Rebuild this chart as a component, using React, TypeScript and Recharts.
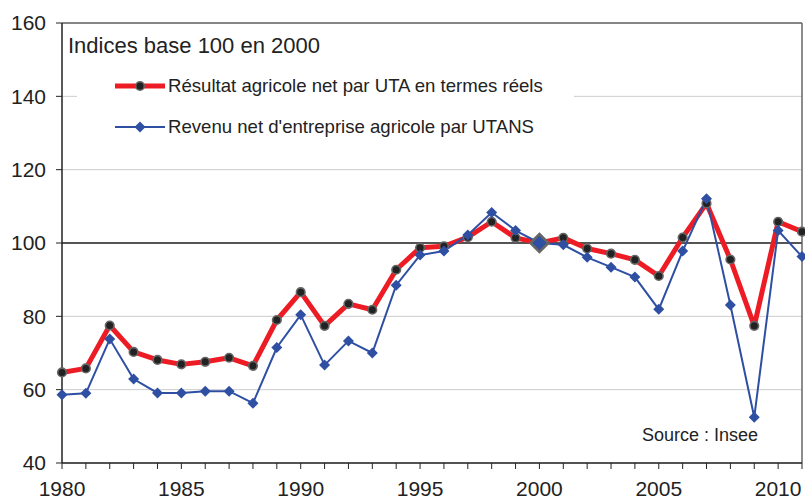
import React from 'react';
import {
  LineChart, Line, XAxis, YAxis, CartesianGrid, ReferenceLine
} from 'recharts';

const YEARS = [
  1980, 1981, 1982, 1983, 1984, 1985, 1986, 1987, 1988, 1989, 1990,
  1991, 1992, 1993, 1994, 1995, 1996, 1997, 1998, 1999, 2000,
  2001, 2002, 2003, 2004, 2005, 2006, 2007, 2008, 2009, 2010, 2011,
];

// Résultat agricole net par UTA en termes réels
const RESULTAT = [
  64.7, 65.8, 77.5, 70.3, 68.1, 66.9, 67.6, 68.7, 66.5, 79.0, 86.6,
  77.4, 83.4, 81.8, 92.7, 98.7, 99.1, 101.6, 105.8, 101.4, 100,
  101.4, 98.5, 97.1, 95.4, 91.0, 101.5, 110.8, 95.5, 77.4, 105.8, 103.1,
];

// Revenu net d'entreprise agricole par UTANS
const REVENU = [
  58.6, 59.0, 73.8, 62.9, 59.1, 59.1, 59.6, 59.6, 56.3, 71.5, 80.4,
  66.7, 73.3, 70.0, 88.5, 96.7, 97.8, 102.2, 108.3, 103.4, 100,
  99.5, 96.1, 93.4, 90.7, 81.9, 97.8, 112.1, 83.1, 52.5, 103.4, 96.3,
];

const Y_TICKS = [40, 60, 80, 100, 120, 140, 160];

const RED = '#ed1c24';
const BLUE = '#2f4fa3';
const FONT = '"Liberation Sans", Arial, sans-serif';

const data = YEARS.map((year, i) => ({ year, resultat: RESULTAT[i], revenu: REVENU[i] }));

const RedDot = (props: any) => {
  const { cx, cy, index } = props;
  return <circle key={`r-${index}`} cx={cx} cy={cy} r={4.3} fill="#222" stroke="#666" strokeWidth={1.6} />;
};

const Diamond = (props: any) => {
  const { cx, cy, index, payload } = props;
  const big = payload && payload.year === 2000;
  const s = big ? 9 : 5.5;
  return (
    <path
      key={`b-${index}`}
      d={`M${cx},${cy - s}L${cx + s},${cy}L${cx},${cy + s}L${cx - s},${cy}Z`}
      fill={BLUE}
      stroke={big ? '#666' : 'none'}
      strokeWidth={big ? 2.5 : 0}
    />
  );
};

const tickStyle = { fontFamily: FONT, fontSize: 21, fill: '#222' };

export default function App() {
  return (
    <div style={{ position: 'absolute', left: 0, top: 0, width: 805, height: 500, background: '#fff' }}>
      <LineChart width={805} height={500} data={data} margin={{ top: 23, right: 3, bottom: 0, left: 0 }}>
        <CartesianGrid horizontal vertical={false} stroke="#cccccc" />
        <XAxis
          type="number"
          dataKey="year"
          domain={[1980, 2011]}
          ticks={YEARS}
          interval={0}
          height={37}
          tickFormatter={(v: number) => (v % 5 === 0 ? String(v) : '')}
          tickSize={6}
          tickMargin={12}
          tick={tickStyle}
          axisLine={{ stroke: '#222', strokeWidth: 1.5 }}
          tickLine={{ stroke: '#222' }}
        />
        <YAxis
          type="number"
          domain={[40, 160]}
          ticks={Y_TICKS}
          interval={0}
          width={62}
          tickSize={6}
          tickMargin={10}
          tick={tickStyle}
          axisLine={{ stroke: '#222', strokeWidth: 1.5 }}
          tickLine={{ stroke: '#222' }}
        />
        <ReferenceLine y={160} stroke="#666" strokeWidth={1.5} />
        <ReferenceLine x={2011} stroke="#666" strokeWidth={1.5} />
        <ReferenceLine y={100} stroke="#555" strokeWidth={2} />
        <Line
          type="linear"
          dataKey="resultat"
          stroke={RED}
          strokeWidth={5}
          strokeLinejoin="round"
          dot={RedDot}
          activeDot={false}
          isAnimationActive={false}
        />
        <Line
          type="linear"
          dataKey="revenu"
          stroke={BLUE}
          strokeWidth={2}
          dot={Diamond}
          activeDot={false}
          isAnimationActive={false}
        />
      </LineChart>

      <div style={{ position: 'absolute', left: 68, top: 33, fontFamily: FONT, fontSize: 22, color: '#222' }}>
        Indices base 100 en 2000
      </div>

      <div
        style={{
          position: 'absolute', left: 77, top: 66, width: 497, height: 80,
          background: '#fff', fontFamily: FONT, fontSize: 18.6, color: '#222',
        }}
      >
        <div style={{ position: 'absolute', left: 37, top: 10, height: 20, display: 'flex', alignItems: 'center' }}>
          <svg width={54} height={20}>
            <line x1={1} y1={10} x2={51} y2={10} stroke={RED} strokeWidth={5} />
            <circle cx={26} cy={10} r={4.3} fill="#222" stroke="#666" strokeWidth={1.6} />
          </svg>
          <span>Résultat agricole net par UTA en termes réels</span>
        </div>
        <div style={{ position: 'absolute', left: 37, top: 51, height: 20, display: 'flex', alignItems: 'center' }}>
          <svg width={54} height={20}>
            <line x1={1} y1={10} x2={51} y2={10} stroke={BLUE} strokeWidth={2} />
            <path d="M26,4.5L31.5,10L26,15.5L20.5,10Z" fill={BLUE} />
          </svg>
          <span>Revenu net d'entreprise agricole par UTANS</span>
        </div>
      </div>

      <div style={{ position: 'absolute', left: 642, top: 425, fontFamily: FONT, fontSize: 18, color: '#222' }}>
        Source : Insee
      </div>
    </div>
  );
}
